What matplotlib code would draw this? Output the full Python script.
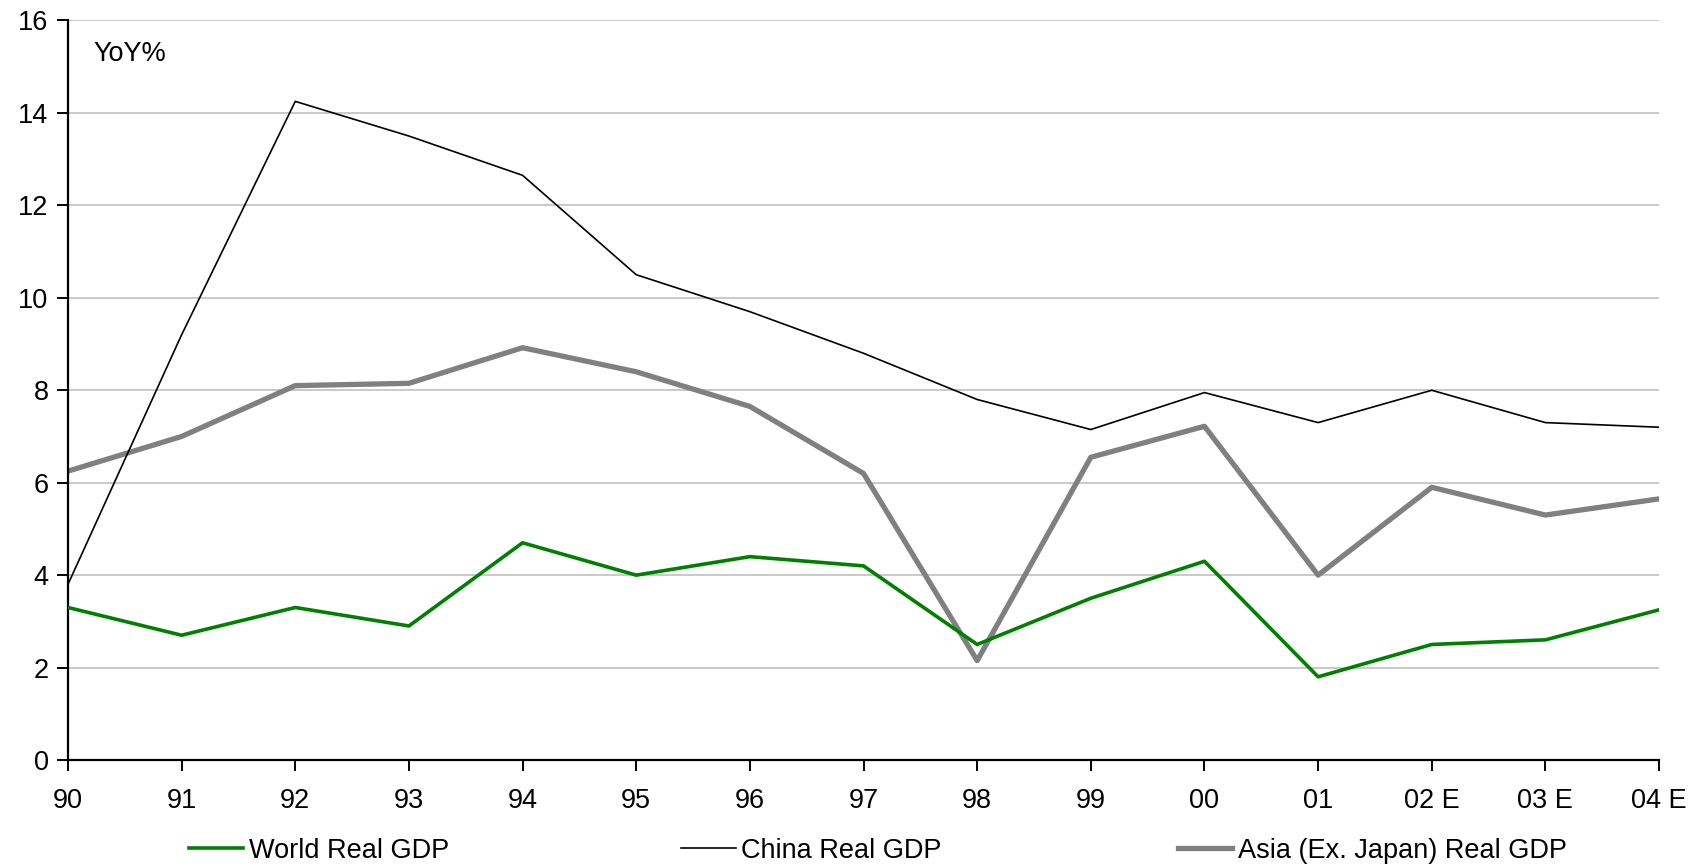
import matplotlib
matplotlib.use("Agg")
import matplotlib.pyplot as plt

plt.rcParams['font.family'] = ['Liberation Sans', 'DejaVu Sans']

years = ["90", "91", "92", "93", "94", "95", "96", "97", "98", "99", "00", "01", "02 E", "03 E", "04 E"]
world = [3.3, 2.7, 3.3, 2.9, 4.7, 4.0, 4.4, 4.2, 2.5, 3.5, 4.3, 1.8, 2.5, 2.6, 3.25]
china = [3.8, 9.2, 14.25, 13.5, 12.65, 10.5, 9.7, 8.8, 7.8, 7.15, 7.95, 7.3, 8.0, 7.3, 7.2]
asia = [6.25, 7.0, 8.1, 8.15, 8.92, 8.4, 7.65, 6.2, 2.15, 6.55, 7.22, 4.0, 5.9, 5.3, 5.65]
labels = ["World Real GDP", "China Real GDP", "Asia (Ex. Japan) Real GDP"]

fig = plt.figure(figsize=(16.95, 8.68), dpi=100)
ax = fig.add_axes([0.0401, 0.1244, 0.9387, 0.8520])

x = list(range(len(years)))
l1, = ax.plot(x, world, color="#008000", lw=2.6, label=labels[0], zorder=3)
l2, = ax.plot(x, china, color="#000000", lw=1.2, label=labels[1], zorder=3)
l3, = ax.plot(x, asia, color="#808080", lw=3.8, label=labels[2], zorder=2)

ax.set_xlim(0, len(years) - 1)
ax.set_ylim(0, 16)
ax.set_yticks(range(0, 17, 2))
ax.set_xticks(x)
ax.set_xticklabels(years)
ax.yaxis.grid(True, color="#c0c0c0", lw=1.2)
ax.set_axisbelow(True)
for s in ["top", "right"]:
    ax.spines[s].set_visible(False)
for s in ["left", "bottom"]:
    ax.spines[s].set_linewidth(1.6)
ax.tick_params(axis="both", direction="out", length=8, width=1.4, labelsize=19.5, colors="#000000")
ax.tick_params(axis="x", pad=12)
ax.tick_params(axis="y", pad=6)

ax.text(0.016, 0.972, "YoY%", transform=ax.transAxes, fontsize=19.5, va="top", ha="left")

for line, lab, xpos in zip([l1, l2, l3], labels, [0.1115, 0.402, 0.695]):
    fig.legend([line], [lab], loc="center left", bbox_to_anchor=(xpos, 0.020),
               frameon=False, fontsize=19.5, handlelength=2.0, handletextpad=0.2,
               borderpad=0, borderaxespad=0)

fig.savefig("out.png", dpi=100)
